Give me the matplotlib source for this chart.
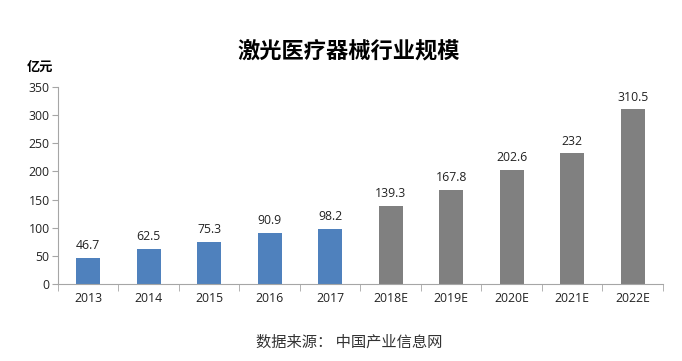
import matplotlib.pyplot as plt
import numpy as np

plt.rcParams['font.family'] = ['Noto Sans CJK SC', 'DejaVu Sans']

# 数据
years = ["2013", "2014", "2015", "2016", "2017", "2018E", "2019E", "2020E", "2021E", "2022E"]
values = [46.7, 62.5, 75.3, 90.9, 98.2, 139.3, 167.8, 202.6, 232, 310.5]
value_labels = ["46.7", "62.5", "75.3", "90.9", "98.2", "139.3", "167.8", "202.6", "232", "310.5"]
colors = ["#4F81BD"] * 5 + ["#808080"] * 5

fig = plt.figure(figsize=(6.82, 3.61), dpi=100)
ax = fig.add_axes([0.085, 0.2133, 0.887, 0.5457])

x = np.arange(len(years))
ax.bar(x, values, width=0.4, color=colors, zorder=2)

for xi, v, lab in zip(x, values, value_labels):
    ax.text(xi, v + 10, lab, ha='center', va='bottom', fontsize=8.8,
            family=['Open Sans', 'DejaVu Sans'], color='#222222')

ax.set_xlim(-0.5, len(years) - 0.5)
ax.set_ylim(0, 350)
ax.set_yticks(range(0, 351, 50))
ax.set_xticks(x)
ax.set_xticklabels(years)
ax.set_xticks(np.arange(-0.5, len(years), 1), minor=True)
ax.tick_params(axis='x', which='major', length=0, pad=6)
ax.tick_params(axis='x', which='minor', length=5, color='#A6A6A6')
ax.tick_params(axis='y', length=4, color='#A6A6A6', pad=2)
for lab in ax.get_xticklabels() + ax.get_yticklabels():
    lab.set_fontsize(8.8)
    lab.set_family(['Open Sans', 'DejaVu Sans'])
    lab.set_color('#222222')

for s in ['top', 'right']:
    ax.spines[s].set_visible(False)
for s in ['left', 'bottom']:
    ax.spines[s].set_color('#A6A6A6')

fig.text(0.512, 0.858, "激光医疗器械行业规模", ha='center', va='center',
         fontsize=16, fontweight='bold')
fig.text(0.058, 0.815, "亿元", ha='center', va='center', fontsize=9.5, fontweight='bold')
fig.text(0.512, 0.052, "数据来源： 中国产业信息网", ha='center', va='center',
         fontsize=11, color='#333333')

fig.savefig("out.png", dpi=100)
